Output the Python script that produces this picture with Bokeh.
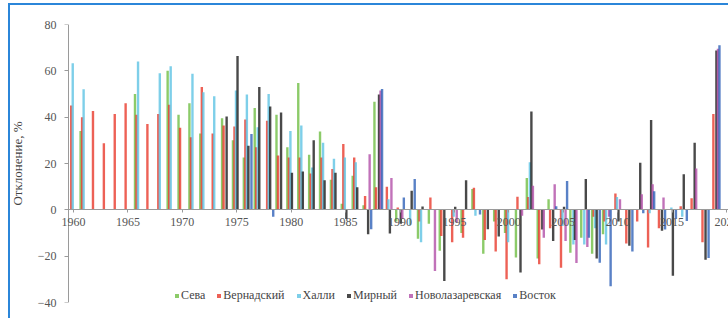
from bokeh.plotting import figure
from bokeh.models import ColumnDataSource, FixedTicker, Legend, LegendItem, Label, LinearAxis
from bokeh.transform import dodge
from bokeh.embed import file_html
from bokeh.resources import INLINE

N = None
years = list(range(1960, 2021))

seva = [N, 34, N, N, N, N, 50, N, N, 60, 41, 46, 33, N, 39.5, 30, 22.6, 44, N, 41,
        27, 54.7, 23.8, 33.8, 13, 2.6, 14.7, 2, 46.7, N, -5, N, -12.5, -6, -17.7, N, -10, 9, -19, -5,
        -10, -20.6, 13.7, -21, 4.6, N, -18.5, -12, -19, -10.5, N, N, N, N, N, N, N, N, N, N, N]
vernadsky = [45, 40, 42.7, 28.7, 41.4, 46, 41, 37, 41.4, 45.4, 35.4, 31.3, 53, 33, 36.4, 36, 39, 27, 38.5, 23.4,
             22.6, 22.6, 15.7, 22.6, 17.6, 28.4, 22.6, 6, 9.7, 10, 1, N, -5, 5.3, -11.3, -14, -12, 9.5, -13, -18,
             -30, 5.6, 5.5, -23.5, -8, -25, N, N, -3, -5, 7, -14.5, -5, -16.3, -8, N, 1.5, 5, -14, 41.4, N]
halley = [63.3, 52, N, N, N, N, 64, N, 59, 62, N, 58.7, 50.8, 49, N, 51.5, 49.8, 35.6, 50, N,
          34, 36.4, 18.3, 29, 22, 22.6, 20.5, N, N, 4.6, N, -6.5, -14, N, N, -3, N, -2.6, N, N,
          -14, N, 20.5, N, N, -7, -15, -15, -8, -15, 5.5, N, N, -1.5, N, 1, -3, N, N, N, N]
mirny = [N, N, N, N, N, N, N, N, N, N, N, N, N, N, 40.3, 66.4, 27.7, 53, 44.6, 42,
         16, 16.6, 30, 12.8, 16, -4, 9.7, -10.5, 49.8, -10.2, -6, 8.2, 1.4, N, -30.7, 1.3, 12.8, N, -8.4, -11.5,
         N, -27, 42.4, -8.5, -13.4, 1.3, -13, 13.3, -21, N, -5, -15.5, 20.3, 38.8, -9, -28.5, 15.4, 29, -21.5, 68.8, N]
novolaz = [N] * 27 + [24, 51.5, 13.7, -4, N, N, -26.4, N, -5.5, N, N, N, N,
                      N, -2.6, 10.4, -12, 11, -13.4, -23, -16, N, -3, 4.6, N, 6.7, 11, 5.3, N, N, 17.8, N, 69.5, N]
vostok = [N] * 16 + [32.7, N, -3, N, N, N, N, N, N, N, N, -8.4, 52.2, N, 5.3, 13.3, N, N, N, N, N, -2, N, N,
                     N, N, N, N, 1.5, 12.4, N, -12, -22.8, -33, N, -18, -1.5, 8, -8.5, -4, -4.8, N, -20.8, 71, N]

names = ["Сева", "Вернадский", "Халли", "Мирный", "Новолазаревская", "Восток"]
series = [seva, vernadsky, halley, mirny, novolaz, vostok]
colors = ["#6fbe44", "#e8392c", "#5ec3e3", "#1c1c1c", "#b14fa8", "#2f62b8"]
offsets = [-0.35, -0.21, -0.07, 0.07, 0.21, 0.35]

y_ticks = [-40, -20, 0, 20, 40, 60, 80]
x_ticks = list(range(1960, 2021, 5))

data = {"year": years}
for i, s in enumerate(series):
    data["s%d" % i] = [float("nan") if v is None else v for v in s]
src = ColumnDataSource(data)

X0, X1 = 1958.53, 2020.18
YAX = 1959.54

p = figure(width=728, height=318, output_backend="svg", toolbar_location=None,
           x_range=(X0, X1), y_range=(-40, 80),
           min_border_left=57, min_border_right=0, min_border_top=24, min_border_bottom=16)
p.outline_line_color = None
p.border_fill_alpha = 0
p.background_fill_alpha = 0
p.styles = {"background": "linear-gradient(#2b86d9,#2b86d9) 8px 3px / 100% 2px no-repeat, "
                          "linear-gradient(#2b86d9,#2b86d9) 8px 3px / 2px 100% no-repeat, white"}
p.xgrid.visible = False
p.ygrid.visible = False

items = []
for i, (nm, c, off) in enumerate(zip(names, colors, offsets)):
    r = p.vbar(x=dodge("year", off), top="s%d" % i, bottom=0, width=0.22, source=src,
               fill_color=c, fill_alpha=0.8, line_color=None)
    items.append(LegendItem(label=nm, renderers=[r]))

font = "Liberation Serif"
grey = "#9a9a9a"

# label-only y axis in the left panel
ya = p.yaxis[0]
ya.ticker = FixedTicker(ticks=y_ticks)
ya.axis_label = "Отклонение, %"
ya.axis_label_text_font = font
ya.axis_label_text_font_style = "normal"
ya.axis_label_text_font_size = "13px"
ya.axis_label_text_color = "#444444"
ya.axis_label_standoff = 10
ya.major_label_text_font = font
ya.major_label_text_font_size = "12px"
ya.major_label_text_color = "#555555"
ya.major_label_standoff = 1
ya.axis_line_color = None
ya.major_tick_line_color = None
ya.major_tick_out = 0
ya.major_tick_in = 0
ya.minor_tick_line_color = None

# axis line and ticks of the y axis
ya2 = LinearAxis(ticker=FixedTicker(ticks=y_ticks), fixed_location=YAX,
                 major_label_text_font_size="1px", major_label_text_color=None,
                 axis_line_color=grey, major_tick_line_color=grey,
                 major_tick_out=4, major_tick_in=0, minor_tick_line_color=None)
p.add_layout(ya2, "left")

xa = p.xaxis[0]
xa.ticker = FixedTicker(ticks=x_ticks)
xa.fixed_location = 0
xa.bounds = (YAX, X1)
xa.major_label_text_font_size = "1px"
xa.major_label_text_color = None
xa.axis_line_color = grey
xa.major_tick_line_color = grey
xa.major_tick_out = 3
xa.major_tick_in = 0
xa.major_label_standoff = 0
xa.minor_tick_line_color = None

for yr in x_ticks:
    p.add_layout(Label(x=yr, y=0, y_offset=-8, text=str(yr), text_align="center",
                       text_baseline="top", text_font=font, text_font_size="12px",
                       text_color="#555555"))

legend = Legend(items=items, orientation="horizontal", location=(117, -1),
                label_text_font=font, label_text_font_size="12px", label_text_color="#444444",
                glyph_width=5, glyph_height=5, label_standoff=2, spacing=11,
                padding=0, margin=0, label_height=12,
                background_fill_alpha=0, border_line_color=None)
p.add_layout(legend, "center")

open("out.html", "w").write(file_html(p, INLINE))
